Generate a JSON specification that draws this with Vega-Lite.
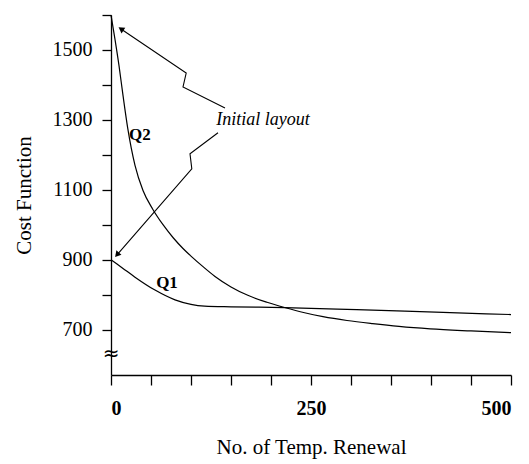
{
  "$schema": "https://vega.github.io/schema/vega-lite/v6.json",
  "width": 400,
  "height": 360,
  "autosize": {"type": "none"},
  "padding": {"left": 111, "top": 15, "right": 18, "bottom": 89},
  "background": "white",
  "config": {
    "font": "Liberation Serif",
    "view": {"stroke": null},
    "axis": {"domainColor": "black", "tickColor": "black", "labelColor": "black", "titleColor": "black", "grid": false, "domainWidth": 1.3, "tickWidth": 1.3, "labelOverlap": false}
  },
  "datasets": {
    "curves": [
      {"series": "Q2", "x": 0, "y": 1600},
      {"series": "Q2", "x": 5, "y": 1530},
      {"series": "Q2", "x": 10, "y": 1455},
      {"series": "Q2", "x": 15, "y": 1370},
      {"series": "Q2", "x": 21, "y": 1275},
      {"series": "Q2", "x": 30, "y": 1170},
      {"series": "Q2", "x": 40, "y": 1098},
      {"series": "Q2", "x": 52, "y": 1045},
      {"series": "Q2", "x": 65, "y": 1000},
      {"series": "Q2", "x": 78, "y": 962},
      {"series": "Q2", "x": 90, "y": 932},
      {"series": "Q2", "x": 101, "y": 908},
      {"series": "Q2", "x": 115, "y": 880},
      {"series": "Q2", "x": 130, "y": 852},
      {"series": "Q2", "x": 150, "y": 822},
      {"series": "Q2", "x": 171, "y": 798},
      {"series": "Q2", "x": 195, "y": 778},
      {"series": "Q2", "x": 217, "y": 763},
      {"series": "Q2", "x": 242, "y": 748},
      {"series": "Q2", "x": 265, "y": 737},
      {"series": "Q2", "x": 295, "y": 726},
      {"series": "Q2", "x": 327, "y": 717},
      {"series": "Q2", "x": 360, "y": 709},
      {"series": "Q2", "x": 399, "y": 702},
      {"series": "Q2", "x": 450, "y": 696},
      {"series": "Q2", "x": 500, "y": 691},
      {"series": "Q1", "x": 0, "y": 900},
      {"series": "Q1", "x": 15, "y": 875},
      {"series": "Q1", "x": 30, "y": 850},
      {"series": "Q1", "x": 55, "y": 813},
      {"series": "Q1", "x": 80, "y": 785},
      {"series": "Q1", "x": 100, "y": 772},
      {"series": "Q1", "x": 117, "y": 767},
      {"series": "Q1", "x": 150, "y": 765},
      {"series": "Q1", "x": 217, "y": 763},
      {"series": "Q1", "x": 307, "y": 757},
      {"series": "Q1", "x": 415, "y": 749},
      {"series": "Q1", "x": 500, "y": 743}
    ],
    "arrows": [
      {"arrow": "a1", "order": 1, "x": 142.5, "y": 1334},
      {"arrow": "a1", "order": 2, "x": 90, "y": 1394},
      {"arrow": "a1", "order": 3, "x": 94, "y": 1434},
      {"arrow": "a1", "order": 4, "x": 12.5, "y": 1560},
      {"arrow": "a2", "order": 1, "x": 133.75, "y": 1263},
      {"arrow": "a2", "order": 2, "x": 98.75, "y": 1203},
      {"arrow": "a2", "order": 3, "x": 101, "y": 1160},
      {"arrow": "a2", "order": 4, "x": 7.5, "y": 914}
    ],
    "heads": [
      {"arrow": "a1", "x": 12.5, "y": 1560},
      {"arrow": "a2", "x": 7.5, "y": 914}
    ],
    "labels": [
      {"text": "Q2", "x": 36, "y": 1257},
      {"text": "Q1", "x": 70, "y": 834}
    ],
    "notes": [
      {"text": "Initial layout", "x": 190, "y": 1300}
    ],
    "brk": [
      {"text": "≈", "x": 0, "y": 630}
    ]
  },
  "encoding": {
    "x": {
      "field": "x", "type": "quantitative",
      "scale": {"domain": [0, 500], "nice": false},
      "axis": {
        "values": [0, 50, 100, 150, 200, 250, 300, 350, 400, 450, 500],
        "format": "d",
        "labelExpr": "(datum.value == 0 || datum.value == 250 || datum.value == 500) ? datum.label : ''",
        "tickSize": 10, "labelPadding": 13, "labelFontSize": 20, "labelFontWeight": "bold",
        "title": "No. of Temp. Renewal", "titleFontSize": 21, "titleFontWeight": "normal", "titlePadding": 18
      }
    },
    "y": {
      "field": "y", "type": "quantitative",
      "scale": {"domain": [570, 1600], "nice": false, "zero": false},
      "axis": {
        "values": [700, 800, 900, 1000, 1100, 1200, 1300, 1400, 1500, 1600],
        "format": "d",
        "labelExpr": "(datum.value == 700 || datum.value == 900 || datum.value == 1100 || datum.value == 1300 || datum.value == 1500) ? datum.label : ''",
        "tickSize": 9, "labelPadding": 10, "labelFontSize": 20,
        "title": "Cost Function", "titleFontSize": 21, "titleFontWeight": "normal", "titlePadding": 18
      }
    }
  },
  "layer": [
    {
      "data": {"name": "curves"},
      "mark": {"type": "line", "color": "black", "strokeWidth": 1.2, "interpolate": "monotone"},
      "encoding": {
        "detail": {"field": "series"}
      }
    },
    {
      "data": {"name": "arrows"},
      "mark": {"type": "line", "color": "black", "strokeWidth": 1.1},
      "encoding": {
        "detail": {"field": "arrow"},
        "order": {"field": "order"}
      }
    },
    {
      "data": {"name": "heads"},
      "transform": [{"filter": "datum.arrow == 'a1'"}],
      "mark": {"type": "point", "shape": "triangle-up", "filled": true, "color": "black", "size": 45, "angle": 304, "opacity": 1},
      "encoding": {}
    },
    {
      "data": {"name": "heads"},
      "transform": [{"filter": "datum.arrow == 'a2'"}],
      "mark": {"type": "point", "shape": "triangle-up", "filled": true, "color": "black", "size": 45, "angle": 221, "opacity": 1},
      "encoding": {}
    },
    {
      "data": {"name": "labels"},
      "mark": {"type": "text", "fontSize": 17, "fontWeight": "bold", "color": "black"},
      "encoding": {
        "text": {"field": "text"}
      }
    },
    {
      "data": {"name": "notes"},
      "mark": {"type": "text", "fontSize": 18, "fontStyle": "italic", "color": "black"},
      "encoding": {
        "text": {"field": "text"}
      }
    },
    {
      "data": {"name": "brk"},
      "mark": {"type": "text", "fontSize": 20, "color": "black", "font": "DejaVu Sans"},
      "encoding": {
        "text": {"field": "text"}
      }
    }
  ]
}
